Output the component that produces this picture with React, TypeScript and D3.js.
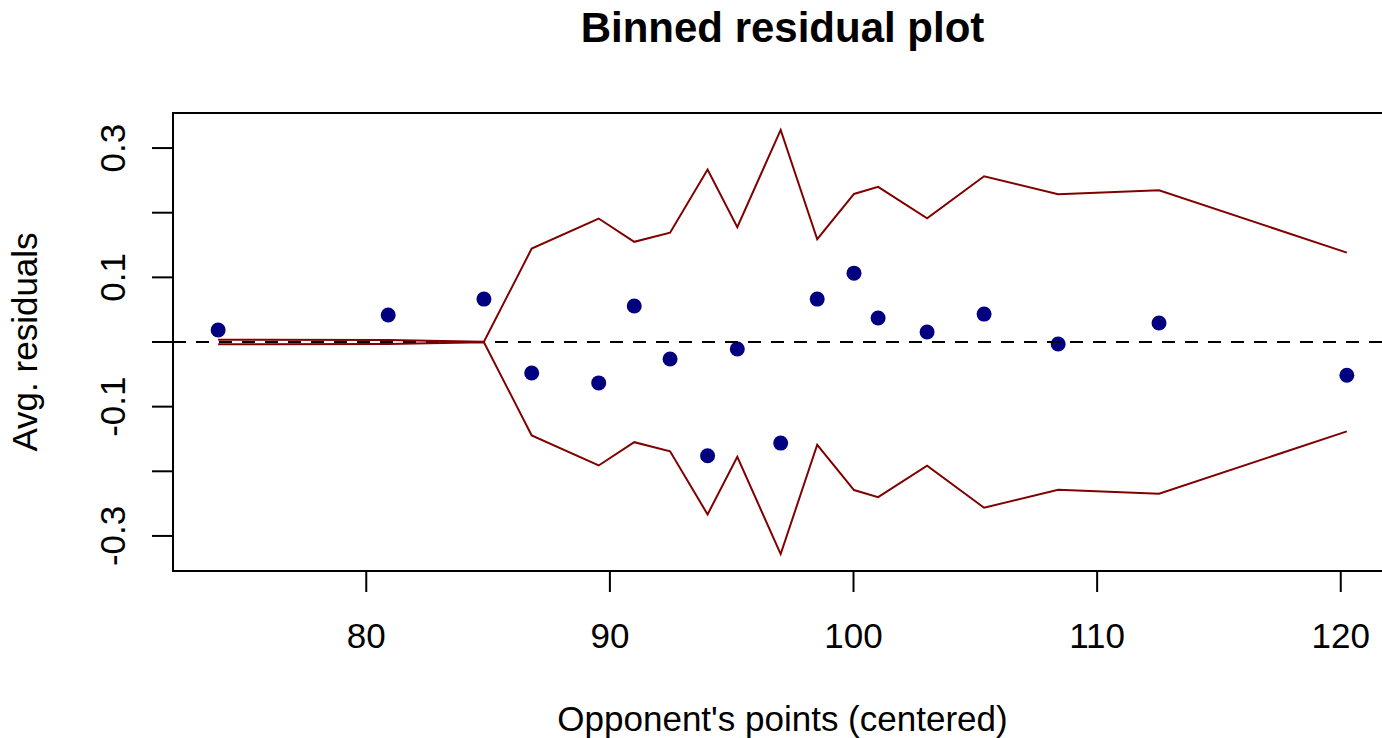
import React, { useEffect, useRef } from 'react'
import * as d3 from 'd3'

// bin means of the predictor (x) and average residual per bin
const binX = [73.92, 80.9, 84.83, 86.79, 89.54, 91.0, 92.47, 94.01, 95.23, 97.01, 98.51, 100.02, 101.01, 103.02, 105.36, 108.4, 112.54, 120.25]
const avgResid = [0.0185, 0.0417, 0.0664, -0.0479, -0.0633, 0.0556, -0.0262, -0.176, -0.0108, -0.1564, 0.0664, 0.1065, 0.0371, 0.0154, 0.0432, -0.003, 0.0293, -0.0514]
// 2 * standard error bounds (band is +/- this)
const bandSe = [0.0035, 0.003, 0.0003, 0.1445, 0.191, 0.155, 0.169, 0.2667, 0.1777, 0.328, 0.159, 0.229, 0.24, 0.1914, 0.2563, 0.2285, 0.2347, 0.1382]

const xTicks = [80, 90, 100, 110, 120]
const yTicks = [-0.3, -0.2, -0.1, 0, 0.1, 0.2, 0.3]
const yTickLabels = ['-0.3', '', '-0.1', '', '0.1', '', '0.3']

const title = 'Binned residual plot'
const xLabel = "Opponent's points (centered)"
const yLabel = 'Avg. residuals'

const W = 1382
const H = 738
const box = { left: 173, right: 1392, top: 113, bottom: 571 }
const font = '"Liberation Sans", Arial, Helvetica, sans-serif'

export default function App () {
	const ref = useRef(null)

	useEffect(() => {
		const svg = d3.select(ref.current)
		svg.selectAll('*').remove()

		// R style 4% axis extension
		const xr = d3.extent(binX)
		const xPad = (xr[1] - xr[0]) * 0.04
		const x = d3.scaleLinear()
			.domain([xr[0] - xPad, xr[1] + xPad])
			.range([box.left, box.right])

		const allY = avgResid.concat(bandSe, bandSe.map(d => -d))
		const yr = d3.extent(allY)
		const yPad = (yr[1] - yr[0]) * 0.04
		const y = d3.scaleLinear()
			.domain([yr[0] - yPad, yr[1] + yPad])
			.range([box.bottom, box.top])

		svg.append('text')
			.attr('x', (box.left + box.right) / 2)
			.attr('y', 42)
			.attr('text-anchor', 'middle')
			.attr('font-family', font)
			.attr('font-weight', 'bold')
			.attr('font-size', 42)
			.text(title)

		// points
		svg.append('g')
			.selectAll('circle')
			.data(binX)
			.enter()
			.append('circle')
				.attr('cx', d => x(d))
				.attr('cy', (d, i) => y(avgResid[i]))
				.attr('r', 7.5)
				.attr('fill', '#000080')

		// zero line
		svg.append('line')
			.attr('x1', box.left)
			.attr('x2', box.right)
			.attr('y1', y(0))
			.attr('y2', y(0))
			.attr('stroke', 'black')
			.attr('stroke-width', 2)
			.attr('stroke-dasharray', '13,10')

		const upper = d3.line()
			.x(d => x(d[0]))
			.y(d => y(d[1]))

		svg.append('path')
			.attr('d', upper(binX.map((d, i) => [d, bandSe[i]])))
			.attr('fill', 'none')
			.attr('stroke', '#800000')
			.attr('stroke-width', 2)

		svg.append('path')
			.attr('d', upper(binX.map((d, i) => [d, -bandSe[i]])))
			.attr('fill', 'none')
			.attr('stroke', '#800000')
			.attr('stroke-width', 2)

		// box
		svg.append('rect')
			.attr('x', box.left)
			.attr('y', box.top)
			.attr('width', box.right - box.left)
			.attr('height', box.bottom - box.top)
			.attr('fill', 'none')
			.attr('stroke', 'black')
			.attr('stroke-width', 2)

		// x axis
		const gx = svg.append('g')
		gx.selectAll('line')
			.data(xTicks)
			.enter()
			.append('line')
				.attr('x1', d => x(d))
				.attr('x2', d => x(d))
				.attr('y1', box.bottom)
				.attr('y2', box.bottom + 21)
				.attr('stroke', 'black')
				.attr('stroke-width', 2)
		gx.selectAll('text')
			.data(xTicks)
			.enter()
			.append('text')
				.attr('x', d => x(d))
				.attr('y', 648)
				.attr('text-anchor', 'middle')
				.attr('font-family', font)
				.attr('font-size', 35)
				.text(d => d)

		// y axis
		const gy = svg.append('g')
		gy.selectAll('line')
			.data(yTicks)
			.enter()
			.append('line')
				.attr('x1', box.left)
				.attr('x2', box.left - 21)
				.attr('y1', d => y(d))
				.attr('y2', d => y(d))
				.attr('stroke', 'black')
				.attr('stroke-width', 2)
		gy.selectAll('text')
			.data(yTicks)
			.enter()
			.append('text')
				.attr('transform', d => `translate(125,${y(d)}) rotate(-90)`)
				.attr('text-anchor', 'middle')
				.attr('font-family', font)
				.attr('font-size', 35)
				.text((d, i) => yTickLabels[i])

		svg.append('text')
			.attr('x', (box.left + box.right) / 2)
			.attr('y', 731)
			.attr('text-anchor', 'middle')
			.attr('font-family', font)
			.attr('font-size', 35)
			.text(xLabel)

		svg.append('text')
			.attr('transform', `translate(37,${(box.top + box.bottom) / 2}) rotate(-90)`)
			.attr('text-anchor', 'middle')
			.attr('font-family', font)
			.attr('font-size', 35)
			.text(yLabel)
	}, [])

	return (
		<svg
			ref={ref}
			width={W}
			height={H}
			style={{ position: 'absolute', left: 0, top: 0, display: 'block', background: 'white' }}
		/>
	)
}
